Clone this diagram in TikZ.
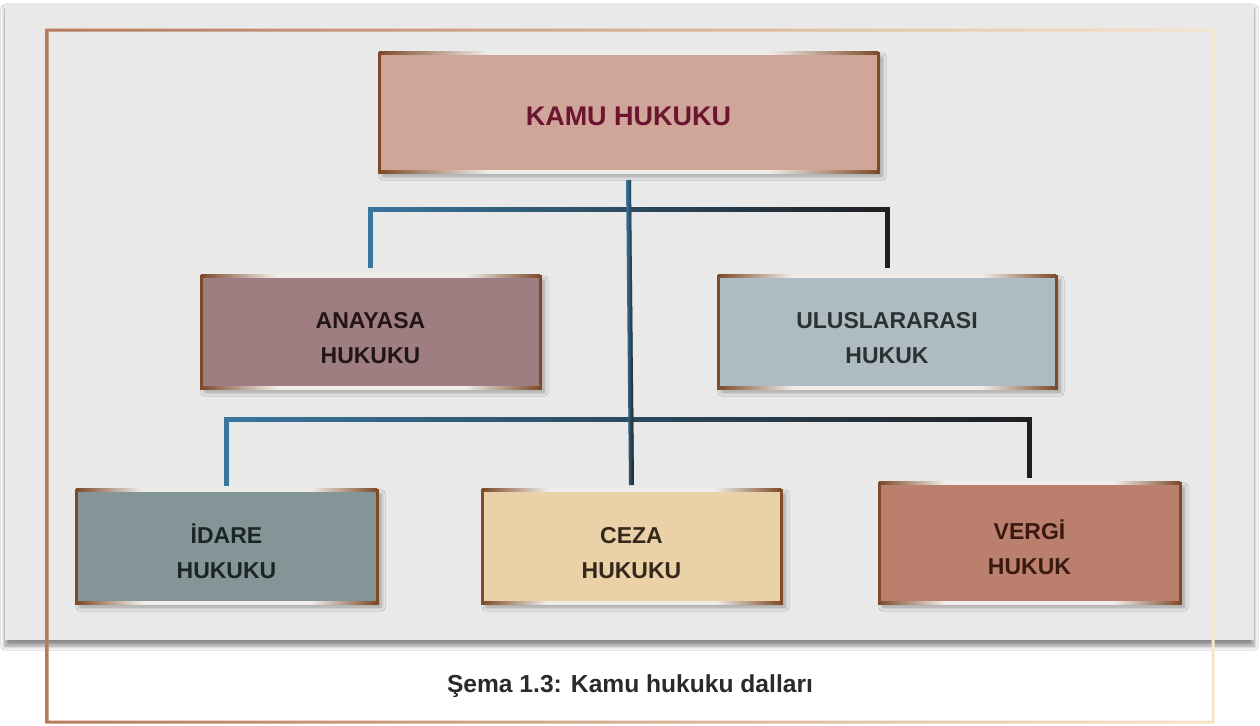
\documentclass[tikz,border=0pt]{standalone}
\usepackage{fontspec}
\setmainfont{Liberation Sans}
\usetikzlibrary{calc,fadings,shadows.blur}

\definecolor{panelgray}{HTML}{E9E9E9}
\definecolor{framebrown}{HTML}{B77A5C}
\definecolor{framecream}{HTML}{F5E5C9}
\definecolor{boxbrown}{HTML}{7E4A28}
\definecolor{shine}{HTML}{EFEDEA}
\definecolor{linkblue}{HTML}{3A769E}
\definecolor{linkdark}{HTML}{1F1F22}
\definecolor{kamufill}{HTML}{CFA699}
\definecolor{kamutext}{HTML}{6B1530}
\definecolor{anafill}{HTML}{9E7E80}
\definecolor{anatext}{HTML}{231517}
\definecolor{ulusfill}{HTML}{AEBBC0}
\definecolor{ulustext}{HTML}{2A3234}
\definecolor{idarefill}{HTML}{849597}
\definecolor{idaretext}{HTML}{1D2427}
\definecolor{cezafill}{HTML}{EAD1A8}
\definecolor{cezatext}{HTML}{33281A}
\definecolor{vergifill}{HTML}{BB7F6E}
\definecolor{vergitext}{HTML}{3A1A10}
\definecolor{captext}{HTML}{2A2A2A}

\tikzfading[name=darkright, left color=transparent!100, right color=transparent!0]
\pgfdeclarehorizontalshading{edgeshine}{100bp}{color(0bp)=(boxbrown); color(25bp)=(boxbrown); color(36bp)=(shine); color(64bp)=(shine); color(75bp)=(boxbrown); color(100bp)=(boxbrown)}

\tikzset{
  lawbox/.style={draw=boxbrown, line width=1.5pt, outer sep=0pt, inner sep=2pt, align=center,
    font=\bfseries\fontsize{11.5}{17.5}\selectfont, text height=32pt,
    blur shadow={shadow xshift=2pt, shadow yshift=-2pt, shadow opacity=35, shadow blur steps=4}},
  link/.style={draw=linkblue, line width=2.5pt,
    postaction={draw=linkdark, line width=2.5pt, path fading=darkright}},
  caption/.style={font=\bfseries\fontsize{12.3}{14}\selectfont, text=captext}
}

\newcommand\shineedges[1]{%
  \shade[shading=edgeshine] ([yshift=-.75pt]#1.north west) rectangle ([yshift=.75pt]#1.north east);
  \shade[shading=edgeshine] ([yshift=-.75pt]#1.south west) rectangle ([yshift=.75pt]#1.south east);}

\begin{document}
\begin{tikzpicture}[x=0.5pt, y=-0.5pt]
  \useasboundingbox[fill=white] (0,0) rectangle (1260,725);

  % back panel and frame
  \fill[panelgray, blur shadow={shadow xshift=0pt, shadow yshift=-3pt, shadow opacity=45, shadow blur steps=6}]
    (5,3) rectangle (1254,640);
  \shade[left color=framebrown, middle color=framebrown!75!framecream, right color=framecream, even odd rule]
    (45.5,28.5) rectangle (1214.5,723.5) (48.5,31.5) rectangle (1211.5,720.5);

  \node[lawbox, fill=kamufill, text=kamutext, minimum width=249.5pt, minimum height=59.5pt,
    font=\bfseries\fontsize{13.5}{16}\selectfont, text height=13.2pt] (kamu) at (628.5,112.5) {KAMU HUKUKU};

  \node[lawbox, fill=anafill, text=anatext, minimum width=169.5pt, minimum height=56pt]
    (ana) at (370.5,332) {ANAYASA\\HUKUKU};
  \node[lawbox, fill=ulusfill, text=ulustext, minimum width=169pt, minimum height=56pt]
    (ulus) at (887,332) {ULUSLARARASI\\HUKUK};

  \node[lawbox, fill=idarefill, text=idaretext, minimum width=150.5pt, minimum height=56.5pt]
    (idare) at (226.5,546.5) {İDARE\\HUKUKU};
  \node[lawbox, fill=cezafill, text=cezatext, minimum width=149.5pt, minimum height=56.5pt]
    (ceza) at (631.5,546.5) {CEZA\\HUKUKU};
  \node[lawbox, fill=vergifill, text=vergitext, minimum width=150.5pt, minimum height=60pt]
    (vergi) at (1029.5,543) {VERGİ\\HUKUK};

  \foreach \b in {kamu,ana,ulus,idare,ceza,vergi}
    {\shineedges{\b}}

  \coordinate (bar1) at (628,209);
  \coordinate (bar2) at (628,419);

  \draw[link] ([yshift=4pt]ana.north) |- (bar1) -| ([yshift=4pt]ulus.north);
  \draw[link] ([yshift=2pt]idare.north) |- (bar2) -| ([yshift=2.5pt]vergi.north);
  \draw[link] ([yshift=-4pt]kamu.south) -- ([yshift=2.5pt]ceza.north);

  \node[caption] (cap) at (630,686) {Şema 1.3: Kamu hukuku dalları};
\end{tikzpicture}
\end{document}
